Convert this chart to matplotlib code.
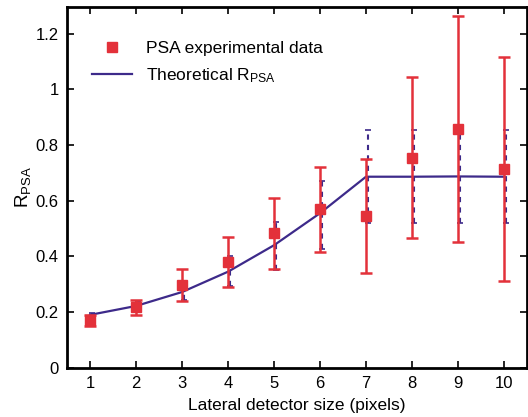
import matplotlib
matplotlib.use("Agg")
import matplotlib.pyplot as plt
import matplotlib.transforms as mtransforms

plt.rcParams['font.family'] = ['Liberation Sans', 'DejaVu Sans']
plt.rcParams['mathtext.default'] = 'regular'

# experimental data
det_size = [1, 2, 3, 4, 5, 6, 7, 8, 9, 10]
psa_exp = [0.170, 0.219, 0.297, 0.381, 0.484, 0.570, 0.545, 0.753, 0.857, 0.713]
exp_low = [0.150, 0.190, 0.240, 0.290, 0.355, 0.415, 0.342, 0.465, 0.450, 0.310]
exp_high = [0.188, 0.243, 0.353, 0.470, 0.609, 0.720, 0.750, 1.043, 1.262, 1.115]

# theoretical curve
theo_x = [1, 2, 3, 4, 5, 6, 7, 8, 9, 10]
theo_y = [0.190, 0.222, 0.272, 0.345, 0.440, 0.555, 0.686, 0.686, 0.687, 0.686]
theo_low = [0.184, 0.210, 0.245, 0.295, 0.352, 0.428, 0.520, 0.520, 0.520, 0.520]
theo_high = [0.196, 0.235, 0.300, 0.400, 0.522, 0.672, 0.853, 0.853, 0.853, 0.853]

red = "#e3313a"
blue = "#3d2a8a"

fig = plt.figure(figsize=(5.28, 4.17), dpi=100)
ax = fig.add_axes([0.127, 0.118, 0.871, 0.865])

shift = mtransforms.offset_copy(ax.transData, fig=fig, x=1.2, y=0, units='points')
t_err = [[y - lo for y, lo in zip(theo_y, theo_low)], [hi - y for y, hi in zip(theo_y, theo_high)]]
eb = ax.errorbar(theo_x, theo_y, yerr=t_err, fmt='none', ecolor=blue, elinewidth=1.5,
                 capsize=2.5, capthick=1.2, transform=shift, zorder=2)
eb[2][0].set_linestyle((0, (2.5, 2.5)))

ax.plot(theo_x, theo_y, color=blue, lw=1.6, zorder=3, label='Theoretical R$_{PSA}$')

e_err = [[y - lo for y, lo in zip(psa_exp, exp_low)], [hi - y for y, hi in zip(psa_exp, exp_high)]]
ax.errorbar(det_size, psa_exp, yerr=e_err, fmt='none', ecolor=red, elinewidth=1.8,
            capsize=4, capthick=1.8, zorder=4)
ax.plot(det_size, psa_exp, 's', color=red, ms=6.5, zorder=5, label='PSA experimental data')

ax.set_xlim(0.5, 10.5)
ax.set_ylim(0, 1.295)
ax.set_xticks(det_size)
ax.set_yticks([0, 0.2, 0.4, 0.6, 0.8, 1.0, 1.2])
ax.set_yticklabels(['0', '0.2', '0.4', '0.6', '0.8', '1', '1.2'])
ax.tick_params(direction='in', top=True, right=True, length=5, width=1.2, labelsize=12, pad=6)
for s in ax.spines.values():
    s.set_linewidth(2)

ax.set_xlabel('Lateral detector size (pixels)', fontsize=12.5, labelpad=5)
ax.set_ylabel('R$_{PSA}$', fontsize=13.5, labelpad=2)

h, l = ax.get_legend_handles_labels()
ax.legend([h[1], h[0]], [l[1], l[0]], loc='upper left', bbox_to_anchor=(0.02, 0.95),
          frameon=False, fontsize=12.5, handlelength=2.3, labelspacing=0.6)

fig.savefig('out.png', dpi=100)
